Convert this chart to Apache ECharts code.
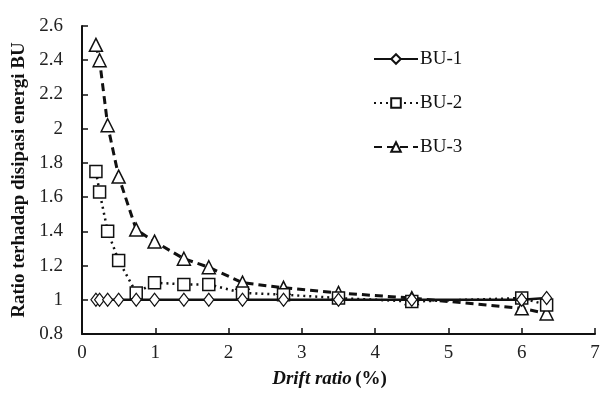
<!DOCTYPE html>
<html><head><meta charset="utf-8">
<script src="https://cdn.jsdelivr.net/npm/echarts@6/dist/echarts.min.js"></script>
<style>html,body{margin:0;padding:0;background:#fff}#c{width:614px;height:401px}</style>
</head><body><div id="c"></div>
<script>
var drift = [0.19, 0.24, 0.35, 0.5, 0.74, 0.99, 1.39, 1.73, 2.19, 2.75, 3.5, 4.5, 6.0, 6.34];
var bu1 = [1.0, 1.0, 1.0, 1.0, 1.0, 1.0, 1.0, 1.0, 1.0, 1.0, 1.0, 1.0, 1.0, 1.01];
var bu2 = [1.75, 1.63, 1.40, 1.23, 1.04, 1.10, 1.09, 1.09, 1.04, 1.03, 1.01, 0.99, 1.01, 0.97];
var bu3 = [2.49, 2.40, 2.02, 1.72, 1.41, 1.34, 1.24, 1.19, 1.10, 1.07, 1.04, 1.01, 0.95, 0.92];
var xTicks = {min: 0, max: 7, interval: 1};
var yTicks = {min: 0.8, max: 2.6, interval: 0.2};

function pairs(xs, ys){ return xs.map(function(x,i){ return [x, ys[i]]; }); }
var font = 'Liberation Serif, Times New Roman, serif';
var chart = echarts.init(document.getElementById('c'));
chart.setOption({
  animation: false,
  grid: {left: 82, right: 19, top: 26, bottom: 67},
  legend: {
    orient: 'vertical', left: 368, top: 44, itemGap: 24,
    itemWidth: 44, itemHeight: 12,
    textStyle: {fontFamily: font, fontSize: 19, lineHeight: 20, color: '#111', padding: [0,0,0,-3]},
    data: ['BU-1','BU-2','BU-3']
  },
  xAxis: {
    type: 'value', min: xTicks.min, max: xTicks.max, interval: xTicks.interval,
    name: '{a|Drift ratio} {b|(%)}', nameLocation: 'middle', nameGap: 36,
    nameTextStyle: {padding: [0, 18, 0, 0], rich: {
      a: {fontFamily: font, fontSize: 19, fontWeight: 'bold', fontStyle: 'italic', color: '#111'},
      b: {fontFamily: font, fontSize: 19, fontWeight: 'bold', color: '#111'}
    }},
    axisLine: {lineStyle: {color: '#111', width: 2}},
    axisTick: {inside: true, length: 6, lineStyle: {color: '#111', width: 1.5}},
    axisLabel: {fontFamily: font, fontSize: 19, color: '#222', margin: 10},
    splitLine: {show: false}
  },
  yAxis: {
    type: 'value', min: yTicks.min, max: yTicks.max, interval: yTicks.interval,
    name: 'Ratio terhadap disipasi energi BU', nameLocation: 'middle', nameGap: 47,
    nameTextStyle: {fontFamily: font, fontSize: 19, fontWeight: 'bold', color: '#111'},
    axisLine: {show: true, lineStyle: {color: '#111', width: 2}},
    axisTick: {show: true, inside: true, length: 6, lineStyle: {color: '#111', width: 1.5}},
    axisLabel: {fontFamily: font, fontSize: 19, color: '#222', margin: 19,
      formatter: function(v){ return String(Math.round(v*10)/10); }},
    splitLine: {show: false}
  },
  series: [
    {name: 'BU-3', type: 'line', data: pairs(drift, bu3), symbol: 'triangle', symbolSize: 13,
     lineStyle: {color: '#111', width: 3, type: [8, 5]},
     itemStyle: {color: '#fff', borderColor: '#111', borderWidth: 1.5}, z: 3},
    {name: 'BU-2', type: 'line', data: pairs(drift, bu2), symbol: 'rect', symbolSize: 12,
     lineStyle: {color: '#111', width: 2.5, type: [2, 4]},
     itemStyle: {color: '#fff', borderColor: '#111', borderWidth: 1.5}, z: 4},
    {name: 'BU-1', type: 'line', data: pairs(drift, bu1), symbol: 'diamond', symbolSize: [10, 13],
     lineStyle: {color: '#111', width: 2.5},
     itemStyle: {color: '#fff', borderColor: '#111', borderWidth: 1.2}, z: 5}
  ]
});
</script></body></html>
